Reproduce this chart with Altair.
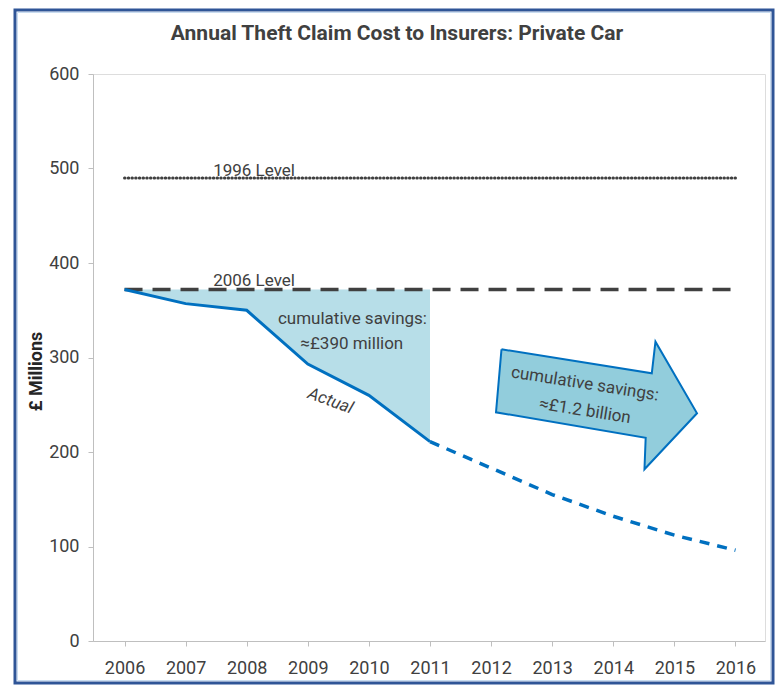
import altair as alt
import pandas as pd

# ---- data ----
years_actual = [2006, 2007, 2008, 2009, 2010, 2011]
cost_actual = [372, 357, 350, 293, 260, 211]
years_proj = [2011, 2012, 2013, 2014, 2015, 2016]
cost_proj = [211, 183, 155, 132, 112, 96]
level_years = [2006, 2016]
level_1996 = 490
level_2006 = 372
x_ticks = list(range(2006, 2017))
y_ticks = [0, 100, 200, 300, 400, 500, 600]
# arrow annotation outline (data coordinates)
arrow_x = [2012.17, 2014.63, 2014.69, 2015.37, 2014.51, 2014.53, 2012.08, 2012.17]
arrow_y = [308.7, 283.3, 316.7, 241.0, 181.7, 215.1, 242.0, 308.7]
title_text = "Annual Theft Claim Cost to Insurers: Private Car"

FONT = "Roboto, Liberation Sans, sans-serif"
TXT = "#404040"
BLUE = "#0070c0"
W, H = 672, 567
x_dom = [2005.484, 2016.483]

xs = alt.Scale(domain=x_dom, nice=False, zero=False)
ys = alt.Scale(domain=[0, 600], nice=False)

df_act = pd.DataFrame({"year": years_actual, "cost": cost_actual})
df_proj = pd.DataFrame({"year": years_proj, "cost": cost_proj})
df_1996 = pd.DataFrame({"year": level_years, "cost": [level_1996] * 2})
df_2006 = pd.DataFrame({"year": level_years, "cost": [level_2006] * 2})
df_arrow = pd.DataFrame({"year": arrow_x, "cost": arrow_y, "i": list(range(len(arrow_x)))})
df_one = pd.DataFrame({"a": [0]})
df_title = pd.DataFrame({"t": [title_text]})

X = alt.X("year:Q", scale=xs, title=None,
          axis=alt.Axis(values=x_ticks, format="d", grid=False, labelFont=FONT,
                        labelFontSize=18, labelColor=TXT, domainColor="#bfbfbf",
                        tickColor="#bfbfbf", tickSize=5, labelPadding=13))
Y = alt.Y("cost:Q", scale=ys, title="£ Millions",
          axis=alt.Axis(values=y_ticks, grid=False, labelFont=FONT, labelFontSize=18,
                        labelColor=TXT, domainColor="#bfbfbf", tickColor="#bfbfbf",
                        tickSize=5, labelPadding=9, titleFont=FONT, titleFontSize=18,
                        titleFontWeight="bold", titleColor="#262626", titleAngle=270,
                        titleX=-57, titleY=297, titleAlign="center", titleBaseline="middle"))

frame = alt.Chart(df_one).mark_rect(fillOpacity=0, stroke="#2f5597", strokeWidth=3).encode(
    x=alt.value(-78), x2=alt.value(680), y=alt.value(-64), y2=alt.value(609))
frame_in = alt.Chart(df_one).mark_rect(fillOpacity=0, stroke="#c9dcf0", strokeWidth=1).encode(
    x=alt.value(-75.5), x2=alt.value(677.5), y=alt.value(-61.5), y2=alt.value(606.5))

title = alt.Chart(df_title).mark_text(font=FONT, fontSize=21, fontWeight="bold", color=TXT,
                                      align="center", baseline="alphabetic").encode(
    x=alt.value(304), y=alt.value(-34), text="t:N")

area = alt.Chart(df_act).mark_area(color="#b7dee8").encode(x=X, y=Y, y2=alt.datum(level_2006))

line_1996 = alt.Chart(df_1996).mark_line(color=TXT, strokeWidth=3, strokeDash=[0.5, 3.2],
                                         strokeCap="round").encode(x=X, y=Y)
line_2006 = alt.Chart(df_2006).mark_line(color=TXT, strokeWidth=3.5, strokeDash=[18, 10]).encode(x=X, y=Y)
line_act = alt.Chart(df_act).mark_line(color=BLUE, strokeWidth=3).encode(x=X, y=Y)
line_proj = alt.Chart(df_proj).mark_line(color=BLUE, strokeWidth=3.5, strokeDash=[10, 8]).encode(x=X, y=Y)

arrow = alt.Chart(df_arrow).mark_line(fill="#92cddc", stroke=BLUE, strokeWidth=2,
                                      strokeJoin="miter").encode(x=X, y=Y, order="i:Q")

def label(txt, x, y, size=17, angle=0, style="normal", baseline="middle", dy=0):
    d = pd.DataFrame({"year": [x], "cost": [y], "t": [txt]})
    kw = dict(font=FONT, fontSize=size, color=TXT, align="center", baseline=baseline,
              fontStyle=style, dy=dy)
    if angle:
        kw["angle"] = angle
    return alt.Chart(d).mark_text(**kw).encode(x=X, y=Y, text="t:N")

texts = [
    label("1996 Level", 2008.12, level_1996, baseline="alphabetic", dy=-2),
    label("2006 Level", 2008.12, level_2006, baseline="alphabetic", dy=-3),
    label("cumulative savings:", 2009.73, 340.7),
    label("≈£390 million", 2009.72, 314.3),
    label("Actual", 2009.37, 254, size=17, angle=20, style="italic"),
    label("cumulative savings:", 2013.536, 272, angle=9),
    label("≈£1.2 billion", 2013.536, 243.4, angle=9),
]

chart = alt.layer(frame, frame_in, title, area, line_1996, line_2006, line_act, line_proj, arrow,
                  *texts).properties(
    width=W, height=H,
    autosize=alt.AutoSizeParams(type="none"),
    padding={"left": 85, "top": 66, "right": 10, "bottom": 44},
).configure_view(stroke="#d9d9d9", strokeWidth=1.5).configure(background="white")

chart.save("out.html", embed_options={"renderer": "svg", "actions": False})
